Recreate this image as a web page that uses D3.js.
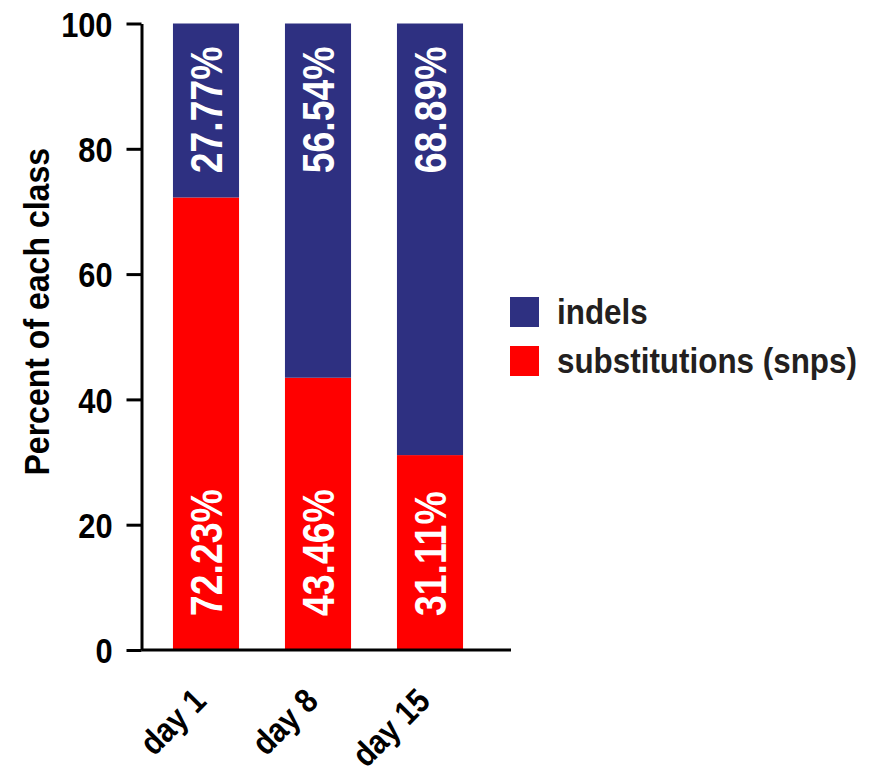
<!DOCTYPE html>
<html>
<head>
<meta charset="utf-8">
<script src="https://cdn.jsdelivr.net/npm/d3@7/dist/d3.min.js"></script>
<style>
  html, body { margin: 0; padding: 0; background: #fff; }
  svg { display: block; }
  text { font-family: "Liberation Sans", Arial, Helvetica, sans-serif; font-weight: bold; }
</style>
</head>
<body>
<svg id="chart" width="869" height="773"></svg>
<script>
const categories = ["day 1", "day 8", "day 15"];
const indels = [27.77, 56.54, 68.89];
const snps = [72.23, 43.46, 31.11];
const indelLabels = ["27.77%", "56.54%", "68.89%"];
const snpLabels = ["72.23%", "43.46%", "31.11%"];
const yTicks = [0, 20, 40, 60, 80, 100];
const seriesNames = ["indels", "substitutions (snps)"];

const colors = { indels: "#2e3081", snps: "#ff0000" };

const svg = d3.select("#chart");

const axisX = 141.5;
const xEnd = 511;
const y = d3.scaleLinear().domain([0, 100]).range([650, 23.5]);
const x = d3.scaleBand().domain(categories).range([150, 486]).paddingInner(0.41).paddingOuter(0.205);

const rows = categories.map((c, i) => ({ cat: c, snps: snps[i], indels: indels[i] }));
const stack = d3.stack().keys(["snps", "indels"])(rows);

// bars
svg.append("g").selectAll("g").data(stack).join("g")
  .attr("fill", d => colors[d.key])
  .selectAll("rect").data(d => d).join("rect")
  .attr("x", d => x(d.data.cat))
  .attr("width", x.bandwidth())
  .attr("y", d => y(d[1]))
  .attr("height", d => y(d[0]) - y(d[1]));

// value labels (condensed)
const vSize = 45, vScale = 0.83, capOff = 16;
svg.append("g").selectAll("text").data(categories).join("text")
  .attr("font-size", vSize)
  .attr("fill", "#fff")
  .attr("text-anchor", "start")
  .attr("transform", d => `translate(${x(d) + x.bandwidth() / 2 + capOff},${y(0) - 34}) rotate(-90) scale(${vScale},1)`)
  .text((d, i) => snpLabels[i]);

svg.append("g").selectAll("text").data(categories).join("text")
  .attr("font-size", vSize)
  .attr("fill", "#fff")
  .attr("text-anchor", "end")
  .attr("transform", d => `translate(${x(d) + x.bandwidth() / 2 + capOff},${y(100) + 23}) rotate(-90) scale(${vScale},1)`)
  .text((d, i) => indelLabels[i]);

// y axis
const tSize = 35, tScale = 0.88;
const yAxis = svg.append("g")
  .attr("transform", `translate(${axisX},0)`)
  .call(d3.axisLeft(y).tickValues(yTicks).tickSize(15).tickSizeOuter(0).tickPadding(14));
yAxis.select(".domain").attr("stroke", "#000").attr("stroke-width", 3);
yAxis.selectAll(".tick line").attr("stroke", "#000").attr("stroke-width", 3);
yAxis.selectAll(".tick text").each(function () {
  const t = d3.select(this);
  const tx = +t.attr("x");
  t.attr("x", 0)
   .attr("font-size", tSize)
   .attr("fill", "#000")
   .attr("dy", "0.36em")
   .attr("transform", `translate(${tx},0) scale(${tScale},1)`);
});
yAxis.attr("font-family", null).attr("font-size", null);

// x axis line
svg.append("line")
  .attr("x1", axisX).attr("x2", xEnd)
  .attr("y1", y(0)).attr("y2", y(0))
  .attr("stroke", "#000").attr("stroke-width", 3);

// x labels
svg.append("g").selectAll("text").data(categories).join("text")
  .attr("font-size", 34)
  .attr("fill", "#000")
  .attr("text-anchor", "end")
  .attr("transform", d => `translate(${x(d) + x.bandwidth() / 2 + 2},${y(0) + 53}) rotate(-45) scale(0.88,1)`)
  .text(d => d);

// y title
svg.append("text")
  .attr("font-size", 36)
  .attr("fill", "#000")
  .attr("text-anchor", "middle")
  .attr("transform", `translate(49,${(y(0) + y(100)) / 2 - 25}) rotate(-90) scale(0.89,1)`)
  .text("Percent of each class");

// legend
const legend = svg.append("g").attr("transform", "translate(510,297)");
const legendItems = [{ name: seriesNames[0], color: colors.indels }, { name: seriesNames[1], color: colors.snps }];
const li = legend.selectAll("g").data(legendItems).join("g")
  .attr("transform", (d, i) => `translate(0,${i * 49})`);
li.append("rect").attr("width", 29).attr("height", 30).attr("fill", d => d.color);
li.append("text")
  .attr("font-size", 36)
  .attr("fill", "#231f20")
  .attr("transform", "translate(47,27) scale(0.872,1)")
  .text(d => d.name);
</script>
</body>
</html>
